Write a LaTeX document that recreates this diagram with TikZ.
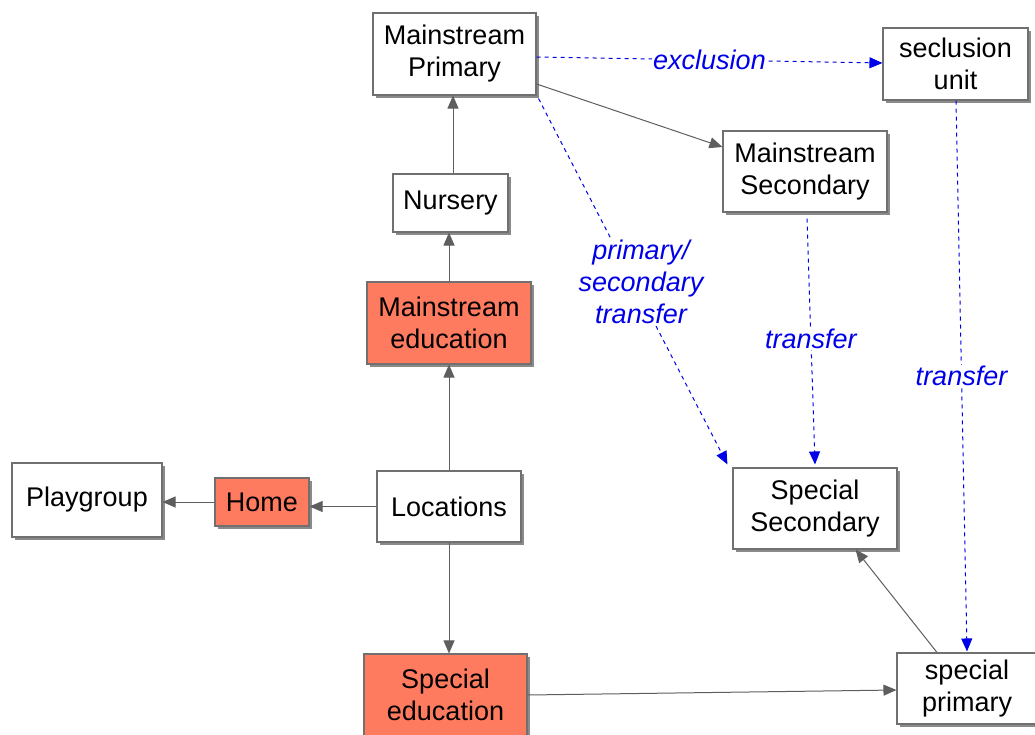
\documentclass[tikz,border=0pt]{standalone}
\usepackage{fontspec}
\setmainfont{Liberation Sans}
\usetikzlibrary{arrows.meta,shadows,calc}
\definecolor{boxline}{HTML}{707070}
\definecolor{shadowgray}{HTML}{8A8A8A}
\definecolor{salmon}{HTML}{FF7B60}
\definecolor{linkgray}{HTML}{5E5E5E}
\definecolor{moveblue}{HTML}{0000E8}
\begin{document}
\begin{tikzpicture}[x=1pt,y=-1pt,
  box/.style={draw=boxline, line width=1.1pt, fill=white, align=center, inner sep=0pt,
    font=\fontsize{27}{32}\selectfont, text=black,
    drop shadow={shadow xshift=3pt, shadow yshift=-3pt, fill=shadowgray, opacity=1}},
  hot/.style={box, fill=salmon},
  link/.style={draw=linkgray, line width=1pt, -{Triangle[length=13pt,width=11pt]}},
  move/.style={draw=moveblue, line width=1pt, dash pattern=on 4pt off 4pt,
    -{Triangle[length=13pt,width=11pt]}},
  tag/.style={fill=white, text=moveblue, font=\fontsize{27}{32}\selectfont\itshape,
    align=center, inner sep=1pt}]
\useasboundingbox (0,0) rectangle (1035,735);

% boxes
\node[box, minimum width=163pt, minimum height=82pt] (mp) at (454.5,54) {Mainstream\\Primary};
\node[box, minimum width=145pt, minimum height=72pt] (su) at (955.5,64) {seclusion\\unit};
\node[box, minimum width=164pt, minimum height=81pt] (ms) at (805,171.5) {Mainstream\\Secondary};
\node[box, minimum width=115pt, minimum height=58pt] (nu) at (450.5,203) {Nursery};
\node[hot, minimum width=164pt, minimum height=82pt] (me) at (449,323) {Mainstream\\education};
\node[box, minimum width=150pt, minimum height=74pt] (pg) at (87,500) {Playgroup};
\node[hot, minimum width=94pt, minimum height=48pt] (ho) at (262,502) {Home};
\node[box, minimum width=144pt, minimum height=71pt] (lo) at (449,506.5) {Locations};
\node[box, minimum width=164pt, minimum height=81pt] (ss) at (815,508.5) {Special\\Secondary};
\node[hot, minimum width=163pt, minimum height=82pt] (se) at (445.5,695) {Special\\education};
\node[box, minimum width=140pt, minimum height=71pt] (sp) at (967,688.5) {special\\primary};

% anchor points for connectors that leave a box off-centre
\coordinate (nuTop) at ($(nu.north)+(2.5,0)$);
\coordinate (spIn) at ($(sp.west)+(0,1.5)$);
\coordinate (spOut) at ($(sp.north)+(-30,0)$);
\coordinate (ssIn) at ($(ss.south east)+(-42,0)$);
\coordinate (mpOut) at ($(mp.east)+(0,30)$);
\coordinate (msIn) at ($(ms.west)+(0,-24.5)$);

% solid connectors
\draw[link] (lo.west) -- (lo.west -| ho.east);
\draw[link] (ho.west) -- (ho.west -| pg.east);
\draw[link] (lo.north) -- (lo.north |- me.south);
\draw[link] (me.north) -- (me.north |- nu.south);
\draw[link] (nuTop) -- (nuTop |- mp.south);
\draw[link] (lo.south) -- (lo.south |- se.north);
\draw[link] (se.east) -- (spIn);
\draw[link] (spOut) -- (ssIn);
\draw[link] (mpOut) -- (msIn);

% dashed transfers
\coordinate (exOut) at ($(mp.east)+(0,3)$);
\coordinate (exIn) at ($(su.west)+(0,-1)$);
\coordinate (ptOut) at ($(mp.south east)+(2,3)$);
\coordinate (ptIn) at ($(ss.north west)+(-5,-3)$);
\coordinate (stOut) at ($(ms.south)+(2,6)$);
\coordinate (stIn) at ($(ss.north)+(0,-3)$);
\coordinate (suOut) at ($(su.south)+(0.5,0)$);
\coordinate (spTop) at ($(sp.north)+(0,-1)$);
\draw[move] (exOut) -- (exIn) node[tag, pos=0.5] {exclusion};
\draw[move] (ptOut) -- (ptIn) node[tag, pos=0.5, xshift=8pt] {primary/\\secondary\\transfer};
\draw[move] (stOut) -- (stIn) node[tag, pos=0.49] {transfer};
\draw[move] (suOut) -- (spTop) node[tag, pos=0.5] {transfer};
\end{tikzpicture}
\end{document}
